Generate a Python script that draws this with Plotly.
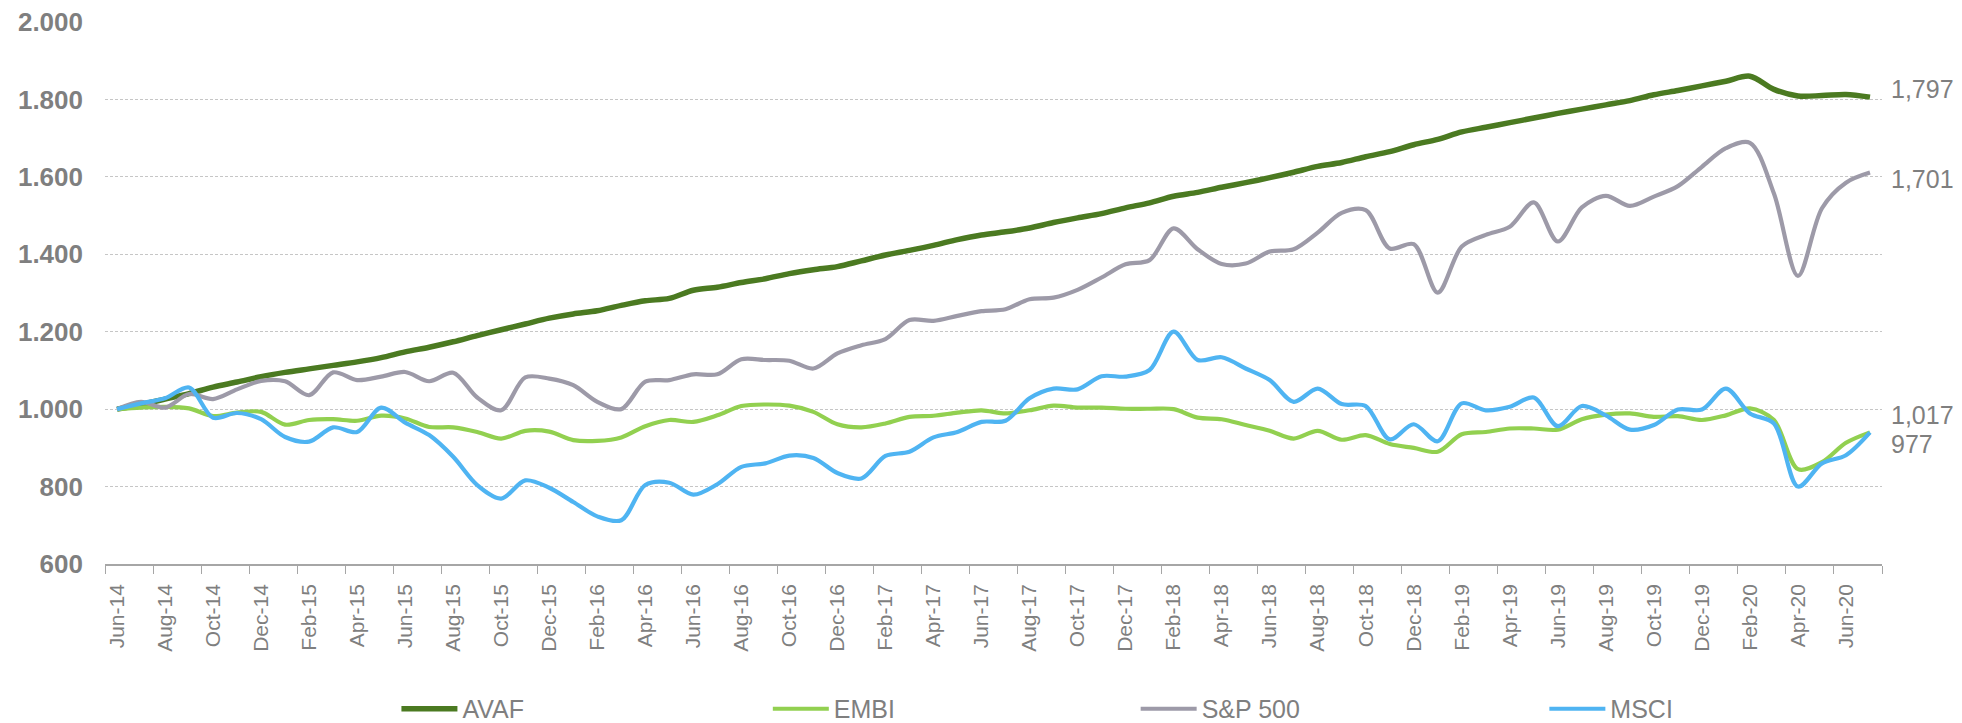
import pandas as pd
import plotly.graph_objects as go

months = list(pd.date_range("2014-06-01", periods=74, freq="MS").strftime("%b-%y"))

avaf = [1000, 1012, 1026, 1040, 1057, 1070, 1084, 1095, 1104, 1113,
        1122, 1133, 1148, 1160, 1174, 1190, 1205, 1220, 1235, 1246,
        1254, 1268, 1280, 1286, 1307, 1315, 1327, 1337, 1350, 1360,
        1368, 1383, 1398, 1410, 1423, 1438, 1450, 1458, 1468, 1482,
        1494, 1505, 1520, 1533, 1550, 1560, 1573, 1585, 1598, 1612,
        1627, 1637, 1652, 1665, 1683, 1697, 1716, 1728, 1740, 1752,
        1764, 1775, 1786, 1797, 1812, 1823, 1835, 1847, 1860, 1826,
        1809, 1810, 1813, 1806]
embi = [1000, 1004, 1006, 1002, 982, 991, 993, 960, 972, 974,
        970, 983, 976, 954, 953, 941, 924, 944, 942, 920,
        918, 927, 956, 972, 967, 984, 1008, 1012, 1009, 993,
        961, 953, 963, 980, 983, 991, 997, 989, 997, 1009,
        1004, 1004, 1001, 1001, 1000, 978, 974, 959, 944, 924,
        944, 921, 933, 910, 900, 890, 935, 941, 950, 950,
        947, 974, 986, 989, 980, 982, 972, 984, 1002, 972,
        845, 863, 913, 940]
sp500 = [1000, 1019, 1004, 1039, 1026, 1051, 1073, 1072, 1036, 1095,
         1075, 1084, 1096, 1072, 1094, 1030, 997, 1082, 1079, 1062,
         1019, 1000, 1071, 1075, 1090, 1090, 1129, 1127, 1125, 1105,
         1144, 1165, 1181, 1230, 1228, 1241, 1253, 1258, 1284, 1288,
         1308, 1340, 1374, 1385, 1467, 1413, 1375, 1376, 1407, 1413,
         1456, 1507, 1514, 1415, 1426, 1301, 1420, 1450, 1471, 1534,
         1433, 1521, 1551, 1525, 1549, 1576, 1626, 1674, 1688, 1557,
         1344, 1519, 1585, 1611]
msci = [1000, 1015, 1028, 1056, 978, 990, 974, 928, 916, 953,
        941, 1004, 965, 933, 877, 804, 769, 816, 797, 760,
        723, 713, 804, 810, 779, 806, 851, 860, 880, 874,
        835, 821, 879, 890, 927, 941, 967, 970, 1028, 1053,
        1051, 1085, 1084, 1101, 1200, 1127, 1134, 1105, 1075, 1019,
        1053, 1013, 1008, 922, 961, 917, 1015, 997, 1006, 1030,
        956, 1008, 984, 947, 959, 999, 999, 1053, 989, 963,
        800, 860, 881, 940]

series_names = ["AVAF", "EMBI", "S&P 500", "MSCI"]
series_values = [avaf, embi, sp500, msci]
series_colors = ["#4b7a21", "#92d050", "#9d9aa8", "#4fb4f2"]
series_widths = [5.5, 4.2, 4.2, 4.2]
legend_ids = ["legend", "legend2", "legend3", "legend4"]
legend_x = [0.164, 0.373, 0.580, 0.810]

end_labels = ["1,797", "1,701", "1,017", "977"]
end_label_y = [0.876, 0.710, 0.275, 0.221]

GRAY = "#7f7f7f"
FONT = "Liberation Sans, Arial, sans-serif"
fig = go.Figure()
for name, vals, col, w, lid in zip(series_names, series_values, series_colors, series_widths, legend_ids):
    fig.add_trace(go.Scatter(
        x=months, y=vals, name=name, mode="lines",
        line=dict(color=col, width=w, shape="spline", smoothing=0.9),
        legend=lid,
    ))

legend_common = dict(orientation="h", yref="paper", xref="paper", y=-0.2675, yanchor="middle",
                     xanchor="left", bgcolor="rgba(0,0,0,0)", borderwidth=0,
                     font=dict(family=FONT, size=25, color=GRAY),
                     itemwidth=56)
layout_legends = {lid: dict(legend_common, x=lx) for lid, lx in zip(legend_ids, legend_x)}

for txt, yy in zip(end_labels, end_label_y):
    fig.add_annotation(text=txt, xref="paper", yref="paper", x=1.004, y=yy,
                       xanchor="left", yanchor="middle", showarrow=False,
                       font=dict(family=FONT, size=25, color=GRAY))

fig.update_layout(
    template="none",
    width=1962, height=723,
    margin=dict(l=105, r=80, t=22, b=159, autoexpand=False),
    paper_bgcolor="white", plot_bgcolor="white",
    separators=",.",
    showlegend=True,
    **layout_legends,
    xaxis=dict(
        type="category", range=[-0.5, 73.5], dtick=2, tick0=0,
        tickson="boundaries", ticks="outside", ticklen=8, tickcolor="#a6a6a6", tickwidth=1,
        showline=True, linecolor="#a6a6a6", linewidth=1.5,
        showgrid=False, zeroline=False, tickangle=-90,
        tickfont=dict(family=FONT, size=21, color=GRAY),
        ticklabelstandoff=10, automargin=False,
    ),
    yaxis=dict(
        range=[600, 2000], dtick=200, tick0=600, tickformat=",d",
        showgrid=True, gridcolor="#c6c6c6", gridwidth=1, griddash="3px,2px",
        zeroline=False, showline=False, ticks="",
        tickfont=dict(family=FONT, size=26, color=GRAY, weight="bold"),
        ticklabelstandoff=21, automargin=False,
    ),
)

fig.write_html("out.html", config={"displayModeBar": False},
               post_script="document.body.style.margin='0';document.body.style.overflow='hidden';")
